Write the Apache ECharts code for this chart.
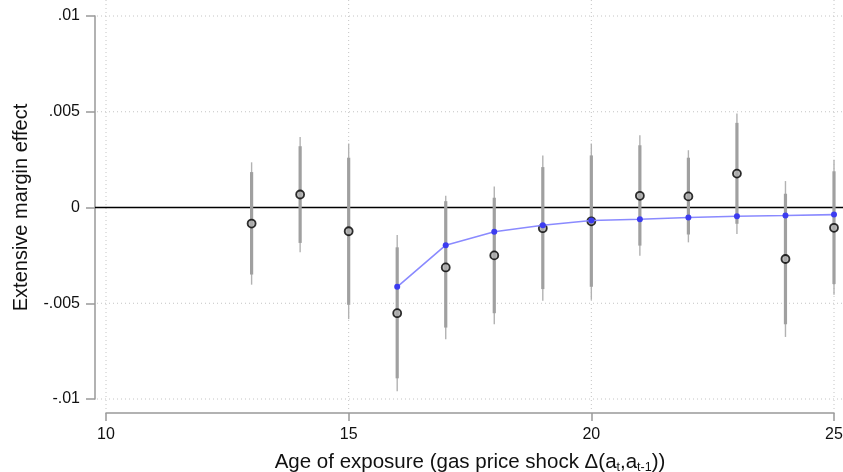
<!DOCTYPE html>
<html>
<head>
<meta charset="utf-8">
<script src="https://cdn.jsdelivr.net/npm/echarts@6/dist/echarts.min.js"></script>
<style>
html,body{margin:0;padding:0;background:#fff;}
#chart{width:843px;height:472px;}
</style>
</head>
<body>
<div id="chart"></div>
<script>
// ---- data ----
const ages = [13, 14, 15, 16, 17, 18, 19, 20, 21, 22, 23, 24, 25];
const estimates = [-0.00084, 0.00068, -0.00124, -0.00552, -0.00313, -0.0025, -0.00108, -0.00072, 0.00061, 0.00058, 0.00177, -0.00269, -0.00106];
const ci95Low  = [-0.00403, -0.00234, -0.00583, -0.00959, -0.00688, -0.0061, -0.00487, -0.00482, -0.00252, -0.00182, -0.00138, -0.00676, -0.00456];
const ci95High = [0.00236, 0.00368, 0.00334, -0.00143, 0.00061, 0.0011, 0.00272, 0.00334, 0.00377, 0.00299, 0.00491, 0.00138, 0.0025];
const ci90Low  = [-0.0035, -0.00185, -0.00508, -0.00892, -0.00627, -0.00552, -0.00426, -0.00414, -0.00199, -0.00141, -0.00085, -0.0061, -0.004];
const ci90High = [0.00185, 0.0032, 0.0026, -0.00208, 0.00033, 0.00051, 0.00211, 0.00272, 0.00325, 0.0026, 0.00442, 0.00072, 0.00189];
const predAges = [16, 17, 18, 19, 20, 21, 22, 23, 24, 25];
const predicted = [-0.00414, -0.00197, -0.00127, -0.00093, -0.00068, -0.00061, -0.00052, -0.00046, -0.00042, -0.00037];
const xTicks = [10, 15, 20, 25];
const yTicks = [-0.01, -0.005, 0, 0.005, 0.01];
const yTickLabels = ['-.01', '-.005', '0', '.005', '.01'];
const yGridValues = [-0.01, -0.005, 0.005, 0.01];

const FONT = "'Liberation Sans', Arial, sans-serif";
const chart = echarts.init(document.getElementById('chart'), null, {renderer: 'canvas'});

function yLabel(v) {
  let best = 0, bd = Infinity;
  yTicks.forEach((t, i) => { const d = Math.abs(t - v); if (d < bd) { bd = d; best = i; } });
  return yTickLabels[best];
}

const option = {
  animation: false,
  backgroundColor: '#ffffff',
  grid: {left: 106, right: 9, top: 16, bottom: 73, containLabel: false, outerBoundsMode: 'none'},
  xAxis: {
    type: 'value', min: 10, max: 25, interval: 5,
    offset: 14,
    axisLine: {show: true, onZero: false, lineStyle: {color: '#999999', width: 1.5}},
    axisTick: {show: true, length: 8, lineStyle: {color: '#999999', width: 1.5}},
    axisLabel: {color: '#111', fontFamily: FONT, fontSize: 16, margin: 14},
    splitLine: {show: false},
    name: 'Age of exposure (gas price shock Δ(a{sub|t},a{sub|t-1}))',
    nameLocation: 'middle', nameGap: 37,
    nameTextStyle: {
      color: '#111', fontFamily: FONT, fontSize: 20.5,
      rich: {sub: {fontFamily: FONT, fontSize: 12.5, color: '#111', verticalAlign: 'bottom', padding: [11, 0, 0, 0]}}
    }
  },
  yAxis: {
    type: 'value', min: -0.01, max: 0.01, interval: 0.005,
    offset: 11,
    axisLine: {show: true, onZero: false, lineStyle: {color: '#999999', width: 1.5}},
    axisTick: {show: true, length: 9, lineStyle: {color: '#999999', width: 1.5}},
    axisLabel: {color: '#111', fontFamily: FONT, fontSize: 16, margin: 15, formatter: yLabel},
    splitLine: {show: false},
    name: 'Extensive margin effect',
    nameLocation: 'middle', nameGap: 64,
    nameTextStyle: {color: '#111', fontFamily: FONT, fontSize: 20}
  },
  series: [
    {
      type: 'custom', name: 'gridlines', z: 1, silent: true, clip: false,
      data: [[10, 0]],
      renderItem: function (params, api) {
        const cs = params.coordSys;
        const children = [];
        yGridValues.forEach(v => {
          const p = api.coord([10, v]);
          children.push({type: 'line', shape: {x1: cs.x - 9, y1: p[1], x2: cs.x + cs.width + 9, y2: p[1]},
            style: {stroke: '#c4c4c4', lineWidth: 1, lineDash: [1, 3]}});
        });
        xTicks.forEach(v => {
          const p = api.coord([v, 0]);
          children.push({type: 'line', shape: {x1: p[0], y1: cs.y - 16, x2: p[0], y2: cs.y + cs.height + 11},
            style: {stroke: '#c4c4c4', lineWidth: 1, lineDash: [1, 3]}});
        });
        const z0 = api.coord([10, 0]);
        children.push({type: 'line', shape: {x1: cs.x - 11, y1: z0[1], x2: cs.x + cs.width + 9, y2: z0[1]},
          style: {stroke: '#000000', lineWidth: 1.5}});
        return {type: 'group', children: children};
      }
    },
    {
      type: 'custom', name: 'ci', z: 2, silent: true,
      encode: {x: 0, y: [1, 2, 3, 4]},
      data: ages.map((a, i) => [a, ci95Low[i], ci95High[i], ci90Low[i], ci90High[i]]),
      renderItem: function (params, api) {
        const x = api.value(0);
        const a = api.coord([x, api.value(1)]);
        const b = api.coord([x, api.value(2)]);
        const c = api.coord([x, api.value(3)]);
        const d = api.coord([x, api.value(4)]);
        return {type: 'group', children: [
          {type: 'line', shape: {x1: a[0], y1: a[1], x2: b[0], y2: b[1]}, style: {stroke: '#b2b2b2', lineWidth: 1.4}},
          {type: 'line', shape: {x1: c[0], y1: c[1], x2: d[0], y2: d[1]}, style: {stroke: '#a0a0a0', lineWidth: 3.2}}
        ]};
      }
    },
    {
      type: 'scatter', name: 'estimates', z: 3,
      symbol: 'circle', symbolSize: 8,
      itemStyle: {color: '#acacac', borderColor: '#000000', borderWidth: 1.8},
      data: ages.map((a, i) => [a, estimates[i]])
    },
    {
      type: 'line', name: 'predicted', z: 4,
      symbol: 'circle', symbolSize: 6, showSymbol: true,
      lineStyle: {color: '#8a8aff', width: 1.6},
      itemStyle: {color: '#3c3cf0', borderWidth: 0},
      data: predAges.map((a, i) => [a, predicted[i]])
    }
  ]
};
chart.setOption(option);
</script>
</body>
</html>
